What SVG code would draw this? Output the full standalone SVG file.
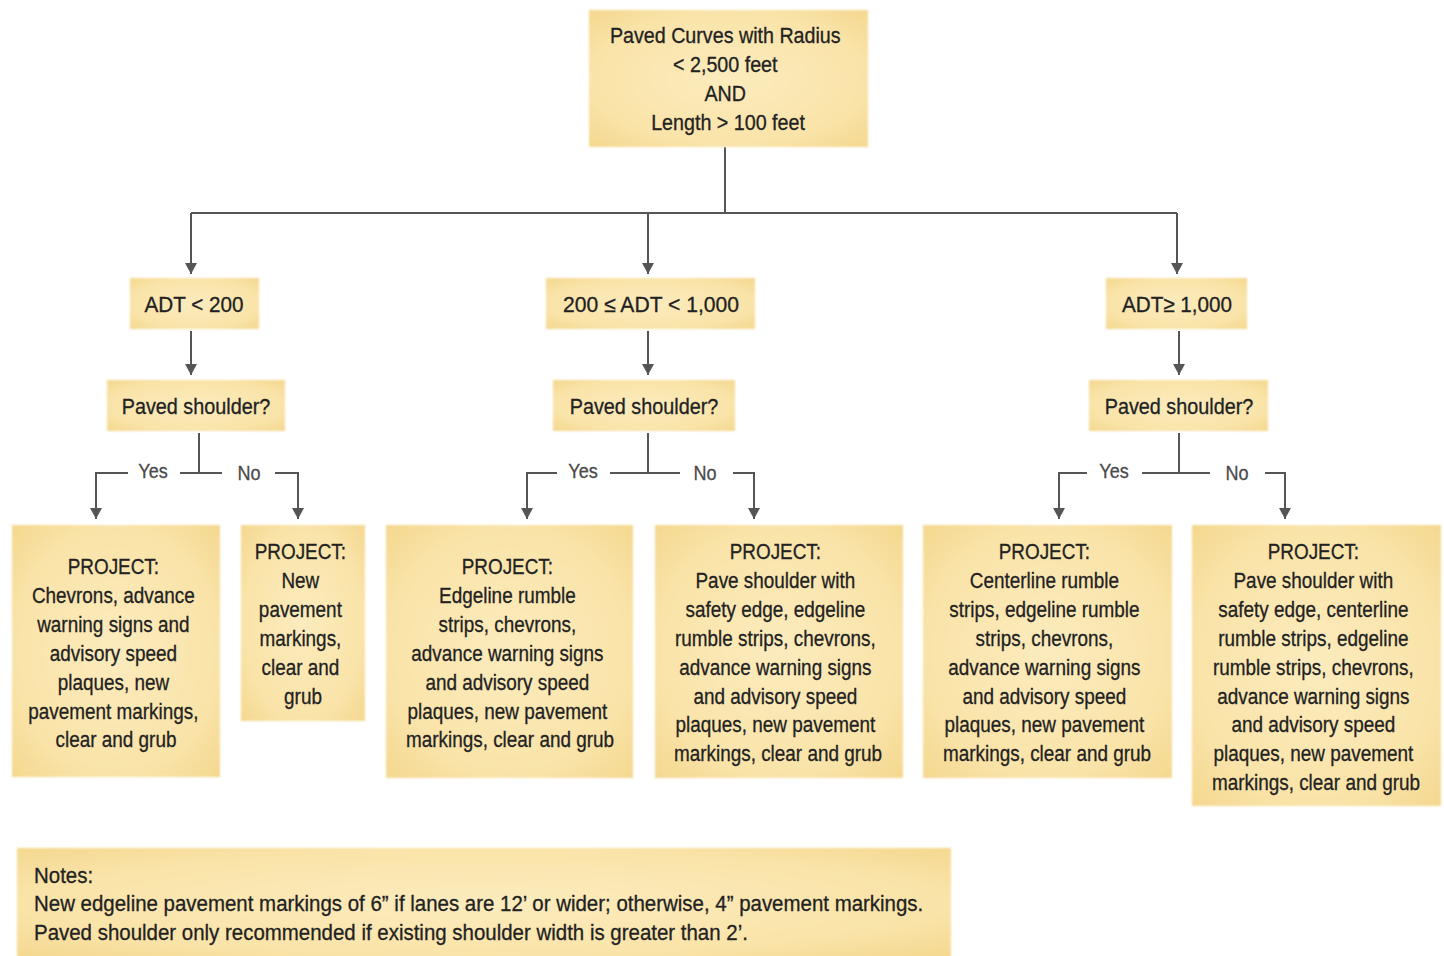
<svg xmlns="http://www.w3.org/2000/svg" width="1444" height="956" viewBox="0 0 1444 956">
<style>
.box{fill:url(#g);filter:url(#soft)}
.t{font-family:"Liberation Sans",Arial,sans-serif;font-size:22px;fill:#222;stroke:#222;stroke-width:0.3;text-anchor:middle}
.tl{font-family:"Liberation Sans",Arial,sans-serif;font-size:22px;fill:#222;stroke:#222;stroke-width:0.3;text-anchor:start}
.lab{font-family:"Liberation Sans",Arial,sans-serif;font-size:21px;fill:#4a4a4a;stroke:#4a4a4a;stroke-width:0.3;text-anchor:middle}
.c{fill:none;stroke:#555;stroke-width:2}
.a{marker-end:url(#ah)}
</style>
<defs>
<radialGradient id="g" cx="50%" cy="50%" r="70%">
<stop offset="0" stop-color="#fcebbd"/>
<stop offset="0.7" stop-color="#f9e3a8"/>
<stop offset="1" stop-color="#f4d88f"/>
</radialGradient>
<filter id="soft" x="-5%" y="-5%" width="110%" height="110%"><feGaussianBlur stdDeviation="0.8"/></filter>
<marker id="ah" markerWidth="14" markerHeight="12" refX="11" refY="6" orient="auto" markerUnits="userSpaceOnUse"><path d="M0,0 L11,6 L0,12 Z" fill="#555"/></marker>
</defs>
<rect width="1444" height="956" fill="#ffffff"/>

<g id="connectors">
<path class="c" d="M725,147 V213 M191,213 H1177"/>
<path class="c a" d="M191,213 V274"/>
<path class="c a" d="M648,213 V274"/>
<path class="c a" d="M1177,213 V274"/>
<path class="c a" d="M191,331 V375"/>
<path class="c a" d="M648,331 V375"/>
<path class="c a" d="M1179,331 V375"/>
<path class="c" d="M199,433 V473 M180,473 H222"/>
<path class="c a" d="M128,473 H96 V519"/>
<path class="c a" d="M275,473 H298 V519"/>
<path class="c" d="M648,433 V473 M610,473 H680"/>
<path class="c a" d="M557,473 H527 V519"/>
<path class="c a" d="M733,473 H754 V519"/>
<path class="c" d="M1179,433 V473 M1142,473 H1210"/>
<path class="c a" d="M1087,473 H1059 V519"/>
<path class="c a" d="M1265,473 H1285 V519"/>
<text class="lab" transform="translate(153,0) scale(0.86,1)" x="0" y="478">Yes</text>
<text class="lab" transform="translate(249,0) scale(0.86,1)" x="0" y="480">No</text>
<text class="lab" transform="translate(583,0) scale(0.86,1)" x="0" y="478">Yes</text>
<text class="lab" transform="translate(705,0) scale(0.86,1)" x="0" y="480">No</text>
<text class="lab" transform="translate(1114,0) scale(0.86,1)" x="0" y="478">Yes</text>
<text class="lab" transform="translate(1237,0) scale(0.86,1)" x="0" y="480">No</text>
</g>

<g id="root">
<rect class="box" x="589" y="10" width="279" height="137"/>
<text class="t" transform="translate(728,0) scale(0.895,1)">
<tspan x="0" y="43">Paved Curves with Radius</tspan>
<tspan x="0" y="72">&lt; 2,500 feet</tspan>
<tspan x="0" y="101">AND</tspan>
<tspan x="0" y="130">Length &gt; 100 feet</tspan>
</text>
</g>

<g id="adt1">
<rect class="box" x="130" y="278" width="129" height="51"/>
<text class="t" transform="translate(194,0) scale(0.94,1)" x="0" y="312">ADT &lt; 200</text>
</g>
<g id="adt2">
<rect class="box" x="546" y="278" width="209" height="51"/>
<text class="t" transform="translate(651,0) scale(0.96,1)" x="0" y="312">200 ≤ ADT &lt; 1,000</text>
</g>
<g id="adt3">
<rect class="box" x="1106" y="278" width="141" height="51"/>
<text class="t" transform="translate(1177,0) scale(0.94,1)" x="0" y="312">ADT≥ 1,000</text>
</g>

<g id="ps1">
<rect class="box" x="107" y="380" width="178" height="51"/>
<text class="t" transform="translate(196,0) scale(0.9,1)" x="0" y="414">Paved shoulder?</text>
</g>
<g id="ps2">
<rect class="box" x="553" y="380" width="182" height="51"/>
<text class="t" transform="translate(644,0) scale(0.9,1)" x="0" y="414">Paved shoulder?</text>
</g>
<g id="ps3">
<rect class="box" x="1089" y="380" width="179" height="51"/>
<text class="t" transform="translate(1179,0) scale(0.9,1)" x="0" y="414">Paved shoulder?</text>
</g>

<g id="p1">
<rect class="box" x="12" y="525" width="208" height="252"/>
<text class="t" transform="translate(116,0) scale(0.86,1)">
<tspan x="0" y="574">PROJECT:</tspan>
<tspan x="0" y="603">Chevrons, advance</tspan>
<tspan x="0" y="632">warning signs and</tspan>
<tspan x="0" y="661">advisory speed</tspan>
<tspan x="0" y="690">plaques, new</tspan>
<tspan x="0" y="719">pavement markings,</tspan>
<tspan x="0" y="747">clear and grub</tspan>
</text>
</g>
<g id="p2">
<rect class="box" x="241" y="525" width="124" height="196"/>
<text class="t" transform="translate(303,0) scale(0.86,1)">
<tspan x="0" y="559">PROJECT:</tspan>
<tspan x="0" y="588">New</tspan>
<tspan x="0" y="617">pavement</tspan>
<tspan x="0" y="646">markings,</tspan>
<tspan x="0" y="675">clear and</tspan>
<tspan x="0" y="704">grub</tspan>
</text>
</g>
<g id="p3">
<rect class="box" x="386" y="525" width="247" height="253"/>
<text class="t" transform="translate(510,0) scale(0.86,1)">
<tspan x="0" y="574">PROJECT:</tspan>
<tspan x="0" y="603">Edgeline rumble</tspan>
<tspan x="0" y="632">strips, chevrons,</tspan>
<tspan x="0" y="661">advance warning signs</tspan>
<tspan x="0" y="690">and advisory speed</tspan>
<tspan x="0" y="719">plaques, new pavement</tspan>
<tspan x="0" y="747">markings, clear and grub</tspan>
</text>
</g>
<g id="p4">
<rect class="box" x="655" y="525" width="248" height="253"/>
<text class="t" transform="translate(778,0) scale(0.86,1)">
<tspan x="0" y="559">PROJECT:</tspan>
<tspan x="0" y="588">Pave shoulder with</tspan>
<tspan x="0" y="617">safety edge, edgeline</tspan>
<tspan x="0" y="646">rumble strips, chevrons,</tspan>
<tspan x="0" y="675">advance warning signs</tspan>
<tspan x="0" y="704">and advisory speed</tspan>
<tspan x="0" y="732">plaques, new pavement</tspan>
<tspan x="0" y="761">markings, clear and grub</tspan>
</text>
</g>
<g id="p5">
<rect class="box" x="923" y="525" width="249" height="253"/>
<text class="t" transform="translate(1047,0) scale(0.86,1)">
<tspan x="0" y="559">PROJECT:</tspan>
<tspan x="0" y="588">Centerline rumble</tspan>
<tspan x="0" y="617">strips, edgeline rumble</tspan>
<tspan x="0" y="646">strips, chevrons,</tspan>
<tspan x="0" y="675">advance warning signs</tspan>
<tspan x="0" y="704">and advisory speed</tspan>
<tspan x="0" y="732">plaques, new pavement</tspan>
<tspan x="0" y="761">markings, clear and grub</tspan>
</text>
</g>
<g id="p6">
<rect class="box" x="1192" y="525" width="249" height="281"/>
<text class="t" transform="translate(1316,0) scale(0.86,1)">
<tspan x="0" y="559">PROJECT:</tspan>
<tspan x="0" y="588">Pave shoulder with</tspan>
<tspan x="0" y="617">safety edge, centerline</tspan>
<tspan x="0" y="646">rumble strips, edgeline</tspan>
<tspan x="0" y="675">rumble strips, chevrons,</tspan>
<tspan x="0" y="704">advance warning signs</tspan>
<tspan x="0" y="732">and advisory speed</tspan>
<tspan x="0" y="761">plaques, new pavement</tspan>
<tspan x="0" y="790">markings, clear and grub</tspan>
</text>
</g>

<g id="notes">
<rect class="box" x="17" y="848" width="934" height="110"/>
<text class="tl" transform="translate(34,0) scale(0.93,1)">
<tspan x="0" y="883">Notes:</tspan>
<tspan x="0" y="911">New edgeline pavement markings of 6” if lanes are 12’ or wider; otherwise, 4” pavement markings.</tspan>
<tspan x="0" y="940">Paved shoulder only recommended if existing shoulder width is greater than 2’.</tspan>
</text>
</g>
</svg>
